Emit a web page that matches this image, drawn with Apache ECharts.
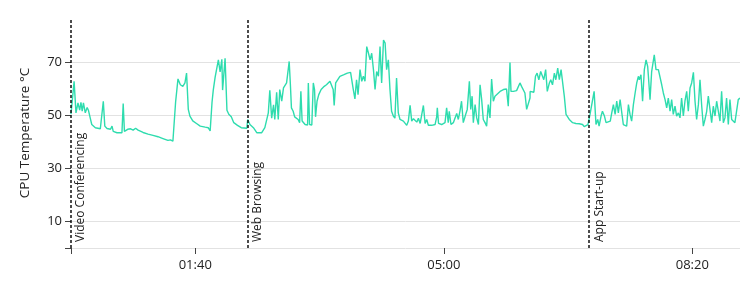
<!DOCTYPE html>
<html><head><meta charset="utf-8">
<script src="https://cdn.jsdelivr.net/npm/echarts@6/dist/echarts.min.js"></script>
<style>html,body{margin:0;padding:0;background:#fff}#c{width:740px;height:285px}</style>
</head><body><div id="c"></div>
<script>
// elapsed seconds
const times = [
0,2.5,4,5.6,7,8,9,10,11.5,13,14,15.5,16.7,19.6,23.6,25,26,27.2,29,31.8,33,34,37,41,42,43,45.6,48,50,52,54,58,62,66,70,74,78,80,82,83.3,
84.2,86.1,88,90,91.7,93,94.4,95.7,98,101,104,108,110.4,112,113.5,114.5,116,117.2,118.6,120,121.4,122,124,125.5,127,129,131,134,137,141.5,
142.2,144,146.8,149.5,153.5,155,156,157.5,158.8,160,161.5,163,164,165.5,166.8,168,169.6,171,172,173.5,174.8,175.6,176.5,177.4,178.8,180,181.4,182.8,184,185,186,187,188.4,189.4,190.4,191,192,193.8,195,196,196.8,198,199.4,201.3,203.8,205.6,207,208.4,209.8,211,211.8,213,214.6,216.4,219.7,222.4,225,225.8,227.2,228.5,229.8,231,232.6,234,235.3,236.6,238,239.4,240.7,242,243.4,244.7,246,247.4,248.7,250,251.5,252.8,254,255.4,256.7,258,259.4,260.7,262,263.4,264.8,267.5,270.2,271.5,272.9,274.2,275.6,277,278.3,279.6,281,282.2,283.6,
285,286.3,287.6,290.3,293,294.3,294.8,295.8,298.3,301,302.3,303.6,304.4,305.8,307.7,310.4,311.7,313,314.3,314.6,315.7,317.6,318.9,320.6,321.7,322.8,323.8,325.2,326.5,327.9,329.2,330.5,331.8,333.2,334.5,335.8,337.2,338.5,339.9,341.2,342.6,345.3,348,349.3,350.5,351.9,353.3,354.1,356,358.6,361.3,362.6,365.3,366.7,368,369.4,369.5,372.5,373.8,375.1,376.5,378,379.2,380.5,382,383.3,385,386.1,387.5,389,390.2,391.7,393,394.4,395.7,397,398.4,401,403.7,406.3,409,411.7,413,414.4,416,
417.7,419.6,421,422.5,423.9,425,426.6,427.7,429.3,430.6,432,434,435.2,436.5,437.9,439.2,440.5,441.9,443.2,444.5,447.2,448.6,449.9,451.2,452.6,454,455.3,456.6,457.4,458.7,460,461.4,462.8,464.1,464.6,466,467.3,469.4,470.8,472.7,474,475.4,476.7,478.1,479.4,480.7,482.1,483.4,484.7,486.1,487.4,488.8,490.1,491.4,492.8,494.1,495.5,496.8,498.2,499.5,500.9,502.2,503.5,504.9,506.2,507.6,508.9,510.2,511.6,512.9,514.3,515.6,516.9,518.3,519.6,521,522.3,523.6,525,526.3,527.6,529,530.3,531.7,533,534.3,535.7,537,538.4
];
// CPU temperature, °C
const temps = [
50.5,62.9,51,54.8,52,55,51.6,54.8,51,53,52,49,46.6,45.4,45,44.8,55.4,46,45.1,44.8,46,44,43.5,43.5,54.5,44,44.8,45,44.5,45.2,44.5,43.6,43,42.5,42,41.3,40.6,40.8,40.3,40.4,
55.2,63.8,61.6,61,62.3,66,52.3,49.8,48,47,46,45.6,45.4,44.2,55,59.6,64.5,64,71,66.5,71.2,59.6,71.6,52,50.5,49.5,47.3,46.3,45.4,45.2,
48.5,46.6,45.4,43.5,43.5,44,45.4,46,51,59.5,49,54,48.5,58.8,48.5,59.8,55.4,60.4,61,62.3,67.3,70.4,62.3,52.9,51.6,49.5,48.8,48.5,47.3,59.1,47.9,47.3,46.6,47.3,46.4,62.3,46.6,46.4,62.3,59.8,49.5,55.4,57.9,59.8,61,61.6,62.3,62.9,63.3,59.8,53.8,62.3,62.9,64.8,65.4,66,66.3,66,59.8,56.3,63.5,57.9,67.3,62.9,64.8,62.9,76,73.5,71,73.5,67.3,59.8,66.6,64.8,76,62.3,78.5,77.3,67.3,71,59.8,51.6,49.8,49,64.1,51,48.5,47.9,46.3,47.9,53.8,47.9,48.8,48.5,47.5,49,47,47.3,53.8,
47,48.5,46.3,46.3,46.6,49.5,52.9,47,46.6,47.3,52.9,47.3,51.6,46.6,47.3,50.8,48.5,51.6,55.4,56,47.3,50.4,52.3,62.9,52.3,57.3,47.3,54.1,49.1,46.6,61.6,56,48.5,47.3,46,54.1,49.1,63.8,55.4,57.3,57.9,59.1,59.8,59.1,60,53.5,70,59.1,59.1,59.4,62.3,61,58.5,52.3,51.6,56.6,59.1,58.8,64.8,66,63.5,66.6,67.3,63.5,67.3,59.1,62.3,63.5,61.6,66,63.5,67.9,63.5,67.3,66.6,57.3,50.4,48.5,47.3,47,46.9,46.6,45.8,46,46.6,
50.4,55.4,59.1,46.6,48.5,46,49.8,51.6,49.8,47.3,47.9,47.9,51,54.1,50.4,55.4,51,56,56,46.6,46,54.1,50.4,47.9,54.1,58.5,62.3,64.8,63.5,65.4,55.4,67.3,71,68.5,65.4,56,66.6,72.9,67.3,67.3,66.6,61.6,58.5,56,52.9,56.6,51.6,56,50.4,53.5,49.8,51,49.1,56.6,49.8,55.4,59.1,51.6,60.4,62.3,66.3,55.4,48.5,54.1,63.5,53.5,46,48.5,51.6,57.3,56.6,47.3,53.5,49.8,55.4,54.8,47.9,59.1,47.3,49.1,56.6,46.6,56,48.5,49.1,47.3,47.9,56,56.6
];
const eventTimes = [0, 141.9, 417];
const eventNames = ['Video Conferencing', 'Web Browsing', 'App Start-up'];
const xLabelValues = [100, 300, 500];
const xTickValues = [0, 100, 300, 500];
const yLabelValues = [10, 30, 50, 70];
const yTickValues = [0, 10, 30, 50, 70];

function mmss(s) {
  const m = Math.floor(s / 60), r = Math.round(s % 60);
  return String(m).padStart(2, '0') + ':' + String(r).padStart(2, '0');
}

const font = "'Open Sans', 'Noto Sans', sans-serif";
const chart = echarts.init(document.getElementById('c'), null, {renderer: 'canvas'});
chart.setOption({
  animation: false,
  textStyle: {fontFamily: font},
  grid: {left: 71, right: 0, top: 18, bottom: 37, containLabel: false},
  xAxis: {
    type: 'value', min: 0, max: 538.4, offset: 6,
    axisLine: {show: false},
    axisTick: {show: true, customValues: xTickValues, length: 6, lineStyle: {color: '#444'}},
    axisLabel: {customValues: xLabelValues, formatter: v => mmss(v), color: '#222', fontSize: 13, fontFamily: font, margin: 5},
    splitLine: {show: false}
  },
  yAxis: {
    type: 'value', min: 0, max: 86.8, interval: 10,
    name: 'CPU Temperature °C', nameLocation: 'middle', nameGap: 39,
    nameTextStyle: {color: '#222', fontSize: 13.5, fontFamily: font},
    axisLine: {show: false},
    axisTick: {show: true, customValues: yTickValues, length: 6, lineStyle: {color: '#444'}},
    axisLabel: {customValues: yLabelValues, color: '#222', fontSize: 13, fontFamily: font, margin: 9},
    splitLine: {show: true, lineStyle: {color: '#e2e2e2', width: 1}}
  },
  series: [{
    type: 'line',
    data: times.map((t, i) => [t, temps[i]]),
    showSymbol: false, symbol: 'none',
    lineStyle: {color: '#2edcae', width: 1.4},
    markLine: {
      silent: true, symbol: 'none',
      lineStyle: {color: '#111', type: [3, 2], width: 1.5},
      label: {show: true, position: 'insideStartBottom', formatter: p => p.name, color: '#222', fontSize: 12, fontFamily: font, distance: [6, 4]},
      data: eventTimes.map((t, i) => ({xAxis: t, name: eventNames[i]}))
    }
  }]
});
</script>
</body></html>
